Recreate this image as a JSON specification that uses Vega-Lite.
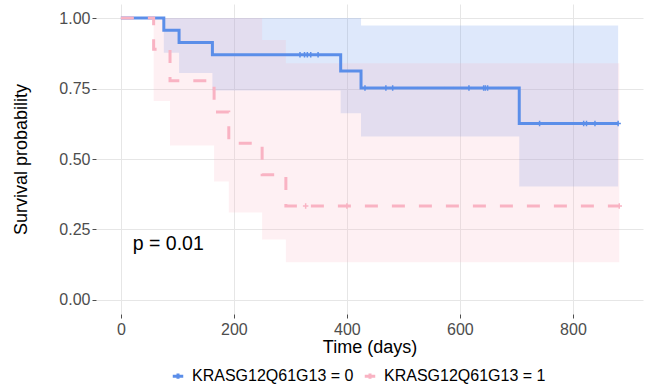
{
  "$schema": "https://vega.github.io/schema/vega-lite/v6.json",
  "width": 547,
  "height": 310,
  "autosize": {"type": "none"},
  "padding": {"left": 96, "top": 4, "right": 7, "bottom": 72},
  "background": "white",
  "config": {
    "font": "Liberation Sans",
    "view": {"stroke": null},
    "axis": {
      "grid": true,
      "gridColor": "#e6e6e6",
      "gridWidth": 1,
      "domain": false,
      "tickColor": "#4d4d4d",
      "tickSize": 4,
      "labelColor": "#4d4d4d",
      "labelFontSize": 16,
      "titleColor": "#000000",
      "titleFontSize": 18,
      "titleFontWeight": "normal"
    }
  },
  "datasets": {
    "curve": [
      {"group": "KRASG12Q61G13 = 0", "t": 0, "s": 1, "lo": 1, "up": 1},
      {"group": "KRASG12Q61G13 = 0", "t": 76, "s": 0.957, "lo": 0.877, "up": 1},
      {"group": "KRASG12Q61G13 = 0", "t": 103, "s": 0.913, "lo": 0.805, "up": 1},
      {"group": "KRASG12Q61G13 = 0", "t": 162, "s": 0.87, "lo": 0.743, "up": 1},
      {"group": "KRASG12Q61G13 = 0", "t": 389, "s": 0.812, "lo": 0.662, "up": 1},
      {"group": "KRASG12Q61G13 = 0", "t": 425, "s": 0.752, "lo": 0.58, "up": 0.974},
      {"group": "KRASG12Q61G13 = 0", "t": 705, "s": 0.626, "lo": 0.402, "up": 0.974},
      {"group": "KRASG12Q61G13 = 0", "t": 880, "s": 0.626, "lo": 0.402, "up": 0.974},
      {"group": "KRASG12Q61G13 = 1", "t": 0, "s": 1, "lo": 1, "up": 1},
      {"group": "KRASG12Q61G13 = 1", "t": 58, "s": 0.889, "lo": 0.706, "up": 1},
      {"group": "KRASG12Q61G13 = 1", "t": 87, "s": 0.778, "lo": 0.548, "up": 1},
      {"group": "KRASG12Q61G13 = 1", "t": 165, "s": 0.667, "lo": 0.42, "up": 1},
      {"group": "KRASG12Q61G13 = 1", "t": 191, "s": 0.556, "lo": 0.31, "up": 1},
      {"group": "KRASG12Q61G13 = 1", "t": 250, "s": 0.444, "lo": 0.214, "up": 0.922},
      {"group": "KRASG12Q61G13 = 1", "t": 292, "s": 0.333, "lo": 0.134, "up": 0.84},
      {"group": "KRASG12Q61G13 = 1", "t": 882, "s": 0.333, "lo": 0.134, "up": 0.84}
    ],
    "censor": [
      {"group": "KRASG12Q61G13 = 0", "t": 317, "s": 0.87},
      {"group": "KRASG12Q61G13 = 0", "t": 325, "s": 0.87},
      {"group": "KRASG12Q61G13 = 0", "t": 330, "s": 0.87},
      {"group": "KRASG12Q61G13 = 0", "t": 336, "s": 0.87},
      {"group": "KRASG12Q61G13 = 0", "t": 349, "s": 0.87},
      {"group": "KRASG12Q61G13 = 0", "t": 432, "s": 0.752},
      {"group": "KRASG12Q61G13 = 0", "t": 469, "s": 0.752},
      {"group": "KRASG12Q61G13 = 0", "t": 481, "s": 0.752},
      {"group": "KRASG12Q61G13 = 0", "t": 616, "s": 0.752},
      {"group": "KRASG12Q61G13 = 0", "t": 642, "s": 0.752},
      {"group": "KRASG12Q61G13 = 0", "t": 645, "s": 0.752},
      {"group": "KRASG12Q61G13 = 0", "t": 649, "s": 0.752},
      {"group": "KRASG12Q61G13 = 0", "t": 741, "s": 0.626},
      {"group": "KRASG12Q61G13 = 0", "t": 819, "s": 0.626},
      {"group": "KRASG12Q61G13 = 0", "t": 824, "s": 0.626},
      {"group": "KRASG12Q61G13 = 0", "t": 839, "s": 0.626},
      {"group": "KRASG12Q61G13 = 0", "t": 880, "s": 0.626},
      {"group": "KRASG12Q61G13 = 1", "t": 327, "s": 0.333},
      {"group": "KRASG12Q61G13 = 1", "t": 400, "s": 0.333},
      {"group": "KRASG12Q61G13 = 1", "t": 882, "s": 0.333}
    ],
    "pval": [{"t": 21, "s": 0.2, "label": "p = 0.01"}]
  },
  "layer": [
    {
      "data": {"name": "curve"},
      "mark": {"type": "area", "interpolate": "step-after", "fillOpacity": 0.2},
      "encoding": {
        "x": {"field": "t", "type": "quantitative"},
        "y": {"field": "lo", "type": "quantitative"},
        "y2": {"field": "up"},
        "color": {"field": "group", "type": "nominal"}
      }
    },
    {
      "data": {"name": "curve"},
      "mark": {"type": "line", "interpolate": "step-after", "strokeWidth": 3},
      "encoding": {
        "x": {
          "field": "t", "type": "quantitative",
          "scale": {"domain": [-44, 924], "nice": false, "zero": false},
          "axis": {"values": [0, 200, 400, 600, 800], "title": "Time (days)", "titlePadding": 1, "labelPadding": 3}
        },
        "y": {
          "field": "s", "type": "quantitative",
          "scale": {"domain": [-0.05, 1.05], "nice": false, "zero": false},
          "axis": {"values": [0, 0.25, 0.5, 0.75, 1], "format": ".2f", "title": "Survival probability", "titlePadding": 28, "labelPadding": 2}
        },
        "color": {
          "field": "group", "type": "nominal",
          "scale": {"domain": ["KRASG12Q61G13 = 0", "KRASG12Q61G13 = 1"], "range": ["#5b8ee9", "#f9b3c3"]},
          "legend": {
            "title": null,
            "orient": "none",
            "direction": "horizontal",
            "legendX": 74,
            "legendY": 364,
            "labelFontSize": 16,
            "labelColor": "#000000",
            "labelLimit": 0,
            "symbolType": "M-1,0H1M0,-0.5V0.5",
            "symbolStrokeWidth": 3,
            "symbolOpacity": 1,
            "symbolFillColor": "transparent",
            "symbolSize": 110,
            "columnPadding": 4,
            "labelOffset": 6
          }
        },
        "strokeDash": {
          "field": "group", "type": "nominal",
          "scale": {"domain": ["KRASG12Q61G13 = 0", "KRASG12Q61G13 = 1"], "range": [[1, 0], [13, 14]]}
        }
      }
    },
    {
      "data": {"name": "censor"},
      "mark": {"type": "point", "shape": "M-1,0H1M0,-1V1", "filled": false, "size": 30, "strokeWidth": 1.5, "opacity": 1},
      "encoding": {
        "x": {"field": "t", "type": "quantitative"},
        "y": {"field": "s", "type": "quantitative"},
        "color": {"field": "group", "type": "nominal"}
      }
    },
    {
      "data": {"name": "pval"},
      "mark": {"type": "text", "align": "left", "baseline": "middle", "fontSize": 19.5, "color": "#000000"},
      "encoding": {
        "x": {"field": "t", "type": "quantitative"},
        "y": {"field": "s", "type": "quantitative"},
        "text": {"field": "label"}
      }
    }
  ]
}
